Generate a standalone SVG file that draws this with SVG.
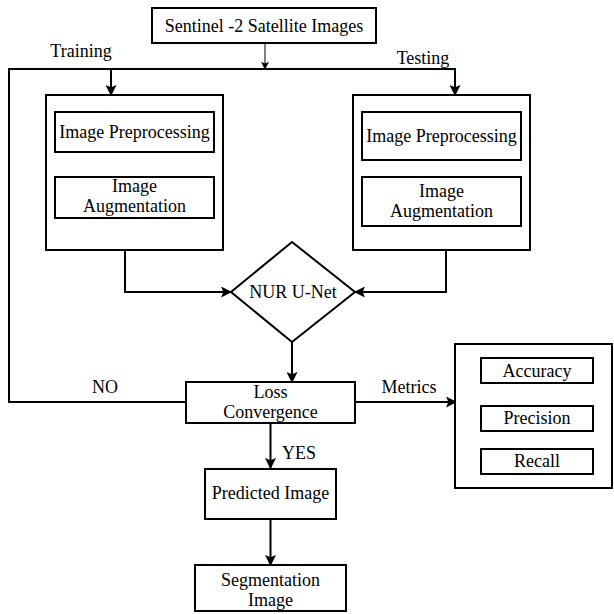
<svg xmlns="http://www.w3.org/2000/svg" width="614" height="614" viewBox="0 0 614 614">
<style>
.box{fill:#fff;stroke:#000;stroke-width:2}
.t{font-family:"Liberation Serif","Times New Roman",serif;font-size:18px;fill:#000;text-anchor:middle}
.ln{fill:none;stroke:#000;stroke-width:2}
.thin{fill:none;stroke:#000;stroke-width:1}
</style>
<defs>
<marker id="ah" viewBox="0 0 10 10" refX="9" refY="5" markerWidth="5.5" markerHeight="5.5" orient="auto" markerUnits="strokeWidth">
<path d="M0,0 L10,5 L0,10 L2,5 z" fill="#000"/>
</marker>
<marker id="ahs" viewBox="0 0 10 10" refX="9" refY="5" markerWidth="8" markerHeight="8" orient="auto" markerUnits="strokeWidth">
<path d="M0,0 L10,5 L0,10 L2,5 z" fill="#000"/>
</marker>
</defs>
<rect width="614" height="614" fill="#fff"/>
<g id="connectors">
<path class="thin" d="M265,43 V69" marker-end="url(#ahs)"/>
<path class="ln" d="M186,402 H9 V69 H455 V95" marker-end="url(#ah)"/>
<path class="ln" d="M111,69 V95" marker-end="url(#ah)"/>
<path class="ln" d="M125,251 V292 H231" marker-end="url(#ah)"/>
<path class="ln" d="M446,251 V292 H355" marker-end="url(#ah)"/>
<path class="ln" d="M292,342 V382" marker-end="url(#ah)"/>
<path class="ln" d="M355,402 H456" marker-end="url(#ah)"/>
<path class="ln" d="M270.5,423 V468" marker-end="url(#ah)"/>
<path class="ln" d="M270.5,519 V565" marker-end="url(#ah)"/>
<text class="t" x="81" y="57">Training</text>
<text class="t" x="423" y="64">Testing</text>
<text class="t" x="105" y="393">NO</text>
<text class="t" x="409" y="393">Metrics</text>
<text class="t" x="299" y="459">YES</text>
</g>
<g id="sentinel">
<rect class="box" x="152" y="8" width="224" height="35"/>
<text class="t" x="264" y="32">Sentinel -2 Satellite Images</text>
</g>
<g id="train-group">
<rect class="box" x="46" y="95" width="177" height="155"/>
</g>
<g id="train-preproc">
<rect class="box" x="55" y="112" width="159" height="40"/>
<text class="t" x="134.5" y="138">Image Preprocessing</text>
</g>
<g id="train-aug">
<rect class="box" x="55" y="177" width="159" height="41"/>
<text class="t" x="134.5" y="192">Image</text>
<text class="t" x="134.5" y="212">Augmentation</text>
</g>
<g id="test-group">
<rect class="box" x="353" y="95" width="177" height="155"/>
</g>
<g id="test-preproc">
<rect class="box" x="362" y="112" width="159" height="48"/>
<text class="t" x="441.5" y="142">Image Preprocessing</text>
</g>
<g id="test-aug">
<rect class="box" x="362" y="177" width="159" height="49"/>
<text class="t" x="441.5" y="197">Image</text>
<text class="t" x="441.5" y="217">Augmentation</text>
</g>
<g id="unet">
<polygon class="box" points="292,242 355,292 292,342 231,292"/>
<text class="t" x="293" y="298">NUR U-Net</text>
</g>
<g id="loss">
<rect class="box" x="186" y="382" width="169" height="41"/>
<text class="t" x="270.5" y="398">Loss</text>
<text class="t" x="270.5" y="418">Convergence</text>
</g>
<g id="metrics">
<rect class="box" x="455" y="344" width="157" height="144"/>
</g>
<g id="accuracy">
<rect class="box" x="481" y="358" width="112" height="25"/>
<text class="t" x="537" y="377">Accuracy</text>
</g>
<g id="precision">
<rect class="box" x="481" y="406" width="112" height="25"/>
<text class="t" x="537" y="424">Precision</text>
</g>
<g id="recall">
<rect class="box" x="481" y="449" width="112" height="25"/>
<text class="t" x="537" y="467">Recall</text>
</g>
<g id="predicted">
<rect class="box" x="205" y="469" width="131" height="50"/>
<text class="t" x="270.5" y="499">Predicted Image</text>
</g>
<g id="segmentation">
<rect class="box" x="195" y="565" width="151" height="46"/>
<text class="t" x="270.5" y="586">Segmentation</text>
<text class="t" x="270.5" y="606">Image</text>
</g>
</svg>
